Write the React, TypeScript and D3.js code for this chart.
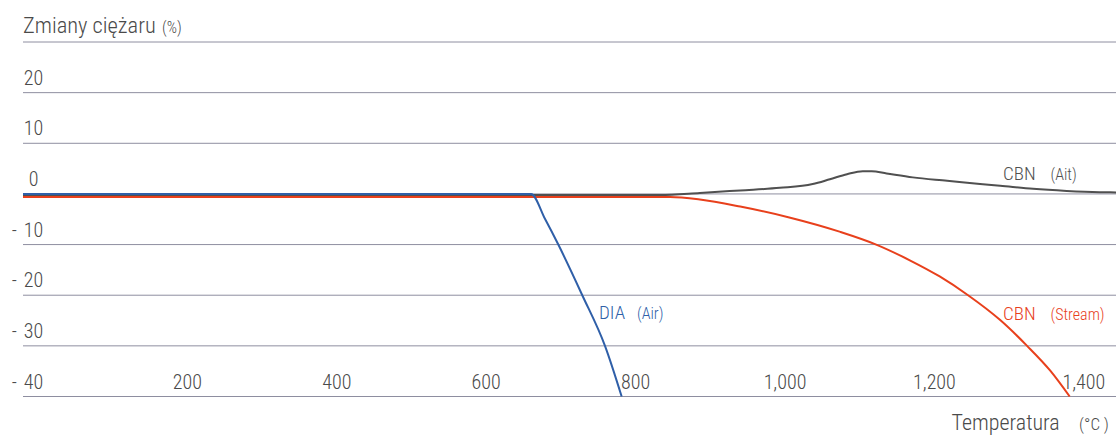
import React from 'react';
import * as d3 from 'd3';

const W = 1116;
const H = 438;

// Temperature (°C) tick labels on the x axis
const xTicks = [200, 400, 600, 800, 1000, 1200, 1400];
// Weight-change (%) labels on the y axis
const yTicks = [20, 10, 0, -10, -20, -30, -40];
const gridValues = [30, 20, 10, 0, -10, -20, -30, -40];

// DIA (Air)
const diaTemp = [-20, 660, 679, 696.5, 728.6, 759, 781.3];
const diaWeight = [0, 0, -5, -10, -20, -30, -40];

// CBN (Ait)
const cbnAirTemp = [-20, 833, 886, 940, 993, 1037, 1060, 1083, 1104, 1116, 1136, 1171, 1217, 1261, 1288, 1332, 1377, 1421, 1443];
const cbnAirWeight = [-0.2, -0.2, 0.2, 0.7, 1.2, 1.95, 2.9, 3.9, 4.5, 4.5, 4.05, 3.27, 2.6, 1.95, 1.6, 1.0, 0.6, 0.35, 0.3];

// CBN (Stream)
const cbnStreamTemp = [-20, 846, 886, 940, 1007, 1074, 1122, 1167, 1207, 1245, 1288, 1324, 1355, 1381];
const cbnStreamWeight = [-0.6, -0.6, -1.1, -2.5, -4.7, -7.5, -10, -13.1, -16.3, -20, -24.9, -30, -34.9, -40];

const FONT = '"Liberation Sans Narrow", "Arial Narrow", "Roboto Condensed", "DejaVu Sans Condensed", sans-serif';
const TEXT = '#4a4a4a';
const GRID = '#8e8ea0';
const BLUE = '#2f5fa8';
const RED = '#e8401c';
const DARK = '#505050';

const fmt = d3.format(',');

export default function App() {
  const x = d3.scaleLinear().domain([-20, 1443]).range([23, 1116]);
  const y = d3.scaleLinear().domain([-40, 30]).range([396.5, 42]);

  const path = (t: number[], v: number[]) =>
    d3
      .line<number>()
      .x((d) => x(d))
      .y((_, i) => y(v[i]))
      .curve(d3.curveMonotoneX)(t) || '';

  return (
    <svg
      width={W}
      height={H}
      style={{ position: 'absolute', left: 0, top: 0, background: '#fff' }}
      fontFamily={FONT}
      fontStretch="condensed"
      fontWeight={300}
    >
      {gridValues.map((g) => (
        <line key={g} x1={23} x2={W} y1={y(g)} y2={y(g)} stroke={GRID} strokeWidth={1} />
      ))}
      {yTicks.map((t) => (
        <g key={t}>
          <text x={33.5} y={y(t) - 8} textAnchor="middle" fontSize={20} fill={TEXT}>
            {Math.abs(t)}
          </text>
          {t < 0 && (
            <text x={17} y={y(t) - 8} textAnchor="end" fontSize={20} fill={TEXT}>
              -
            </text>
          )}
        </g>
      ))}
      {xTicks.map((t) => (
        <text key={t} x={x(t)} y={y(-40) - 8} textAnchor="middle" fontSize={20} fill={TEXT}>
          {fmt(t)}
        </text>
      ))}

      <path d={path(cbnStreamTemp, cbnStreamWeight)} fill="none" stroke={RED} strokeWidth={2} />
      <path d={path(cbnAirTemp, cbnAirWeight)} fill="none" stroke={DARK} strokeWidth={2} />
      <path d={path(diaTemp, diaWeight)} fill="none" stroke={BLUE} strokeWidth={2} />

      <text x={23} y={33} fontSize={22.5} fill={TEXT}>Zmiany ciężaru</text>
      <text x={162} y={33} fontSize={16} fill={TEXT}>(%)</text>

      <text x={1003} y={179.5} fontSize={19} fill={DARK}>CBN</text>
      <text x={1050.5} y={179.5} fontSize={16} fill={DARK}>(Ait)</text>

      <text x={599} y={318.5} fontSize={19} fill={BLUE}>DIA</text>
      <text x={637} y={318.5} fontSize={16} fill={BLUE}>(Air)</text>

      <text x={1003} y={320} fontSize={19} fill={RED}>CBN</text>
      <text x={1050.5} y={320} fontSize={16} fill={RED}>(Stream)</text>

      <text x={951.5} y={430} fontSize={22} fill={TEXT}>Temperatura</text>
      <text x={1079} y={430} fontSize={17} fill={TEXT}>(°C )</text>
    </svg>
  );
}
